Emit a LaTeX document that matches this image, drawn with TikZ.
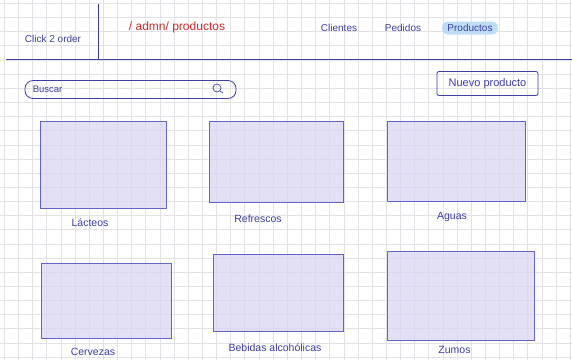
\documentclass[tikz,border=0pt]{standalone}
\usepackage{fontspec}
\setmainfont{Liberation Sans}
\usetikzlibrary{positioning}
\definecolor{ink}{RGB}{62,62,165}
\definecolor{boxline}{RGB}{100,100,200}
\definecolor{redink}{RGB}{212,44,44}
\definecolor{boxfill}{RGB}{216,212,242}
\definecolor{gridcol}{RGB}{226,226,230}
\definecolor{hilite}{RGB}{190,220,246}
\tikzset{
gridline/.style={draw=gridcol, line width=0.6pt},
frame/.style={draw=ink, line width=0.8pt},
card/.style={
  draw=boxline,
  line width=0.8pt,
  fill=boxfill,
  fill opacity=0.7,
  inner sep=0pt
  },
hand/.style={
  text=ink,
  font=\fontsize{9.5}{11}\selectfont,
  inner sep=2pt
  },
catlabel/.style={
  hand,
  font=\fontsize{10.5}{12}\selectfont
  }
}

\begin{document}
\begin{tikzpicture}[x=1pt, y=-1pt]
\useasboundingbox (0,0) rectangle (572,360);
\fill[white] (0,0) rectangle (572,360);
\foreach \i in {0,...,40}
  \draw[gridline] (4.2+14.15*\i,0) -- (4.2+14.15*\i,360);
\foreach \j in {0,...,25}
  \draw[gridline] (0,3.3+14.15*\j) -- (572,3.3+14.15*\j);

% header
\coordinate (hl) at (6,59);
\coordinate (hr) at (572,59);
\coordinate (vt) at (98,4);
\coordinate (vb) at (98,59);
\draw[frame] (hl) -- (hr);
\draw[frame] (vt) -- (vb);
\node[hand, font=\fontsize{10}{12}\selectfont] (brand) at (53,39) {Click 2 order};
\node[hand, text=redink, font=\fontsize{12}{14}\selectfont] (route) at (177,27) {/ admn/ productos};
\node[hand, font=\fontsize{10}{12}\selectfont] (clientes) at (339,28) {Clientes};
\node[hand, font=\fontsize{10}{12}\selectfont] (pedidos) at (403,28) {Pedidos};
\node[hand, font=\fontsize{10}{12}\selectfont, fill=hilite, rounded corners=6pt, minimum width=56, minimum height=13, inner sep=1pt] (productos) at (470,28) {Productos};

% search bar and button
\node[frame, rounded corners=8pt, minimum width=211, minimum height=18] (search) at (130.5,89.5) {};
\node[hand, anchor=west] (buscar) at (search.west) {\hspace{6pt}Buscar};
\node[draw=ink, line width=0.7pt, circle, minimum size=8pt, inner sep=0pt] (lens) at (217,88) {};
\coordinate (lenstail) at (223,93);
\draw[ink, line width=0.7pt] (lens.south east) -- (lenstail);
\node[frame, hand, font=\fontsize{11}{13}\selectfont, rounded corners=2pt, minimum width=101, minimum height=24] (nuevo) at (487.5,83.5) {Nuevo producto};

% categories
\node[card, minimum width=126, minimum height=87] (lacteos) at (103,164.5) {};
\node[card, minimum width=134, minimum height=81] (refrescos) at (276,161.5) {};
\node[card, minimum width=138, minimum height=80] (aguas) at (456,161) {};
\node[card, minimum width=130, minimum height=75] (cervezas) at (106,300.5) {};
\node[card, minimum width=130, minimum height=77] (bebidas) at (278,292.5) {};
\node[card, minimum width=147, minimum height=89] (zumos) at (460.5,295.5) {};

\node[catlabel, below=8pt of lacteos, xshift=-13pt] (lacteoslbl) {Lácteos};
\node[catlabel, below=10pt of refrescos, xshift=-18pt] (refrescoslbl) {Refrescos};
\node[catlabel, below=9pt of aguas, xshift=-4pt] (aguaslbl) {Aguas};
\node[catlabel, below=8pt of cervezas, xshift=-13pt] (cervezaslbl) {Cervezas};
\node[catlabel, below=10pt of bebidas, xshift=-3pt] (bebidaslbl) {Bebidas alcohólicas};
\node[catlabel, below=4pt of zumos, xshift=-6pt] (zumoslbl) {Zumos};
\end{tikzpicture}
\end{document}
